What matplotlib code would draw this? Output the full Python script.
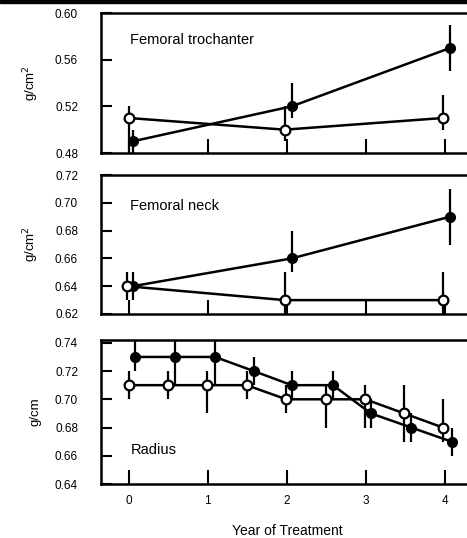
import matplotlib
matplotlib.use("Agg")
import matplotlib.pyplot as plt
from matplotlib.patches import Rectangle

plt.rcParams['font.family'] = ['Liberation Sans', 'DejaVu Sans']

# ---- data ----
panel_titles = ["Femoral trochanter", "Femoral neck", "Radius"]
ylabels = ["g/cm$^2$", "g/cm$^2$", "g/cm"]
yticks_list = [[0.48, 0.52, 0.56, 0.60],
               [0.62, 0.64, 0.66, 0.68, 0.70, 0.72],
               [0.64, 0.66, 0.68, 0.70, 0.72, 0.74]]
ylims = [(0.48, 0.60), (0.62, 0.72), (0.64, 0.742)]
xticks = [0, 1, 2, 3, 4]

# Femoral trochanter
troch_open_x = [0.0, 1.97, 3.97]
troch_open_y = [0.51, 0.50, 0.51]
troch_open_lo = [0.48, 0.49, 0.50]
troch_open_hi = [0.52, 0.52, 0.53]
troch_fill_x = [0.05, 2.06, 4.06]
troch_fill_y = [0.49, 0.52, 0.57]
troch_fill_lo = [0.48, 0.51, 0.55]
troch_fill_hi = [0.50, 0.54, 0.59]

# Femoral neck
neck_open_x = [-0.02, 1.97, 3.97]
neck_open_y = [0.64, 0.63, 0.63]
neck_open_lo = [0.63, 0.62, 0.62]
neck_open_hi = [0.65, 0.65, 0.65]
neck_fill_x = [0.05, 2.06, 4.06]
neck_fill_y = [0.64, 0.66, 0.69]
neck_fill_lo = [0.63, 0.65, 0.67]
neck_fill_hi = [0.65, 0.68, 0.71]

# Radius
rad_open_x = [0.0, 0.5, 0.99, 1.49, 1.99, 2.49, 2.99, 3.48, 3.97]
rad_open_y = [0.71, 0.71, 0.71, 0.71, 0.70, 0.70, 0.70, 0.69, 0.68]
rad_open_lo = [0.70, 0.70, 0.69, 0.70, 0.69, 0.68, 0.68, 0.67, 0.67]
rad_open_hi = [0.72, 0.72, 0.72, 0.72, 0.71, 0.71, 0.71, 0.71, 0.70]
rad_fill_x = [0.08, 0.58, 1.09, 1.58, 2.06, 2.58, 3.06, 3.57, 4.08]
rad_fill_y = [0.73, 0.73, 0.73, 0.72, 0.71, 0.71, 0.69, 0.68, 0.67]
rad_fill_lo = [0.72, 0.71, 0.71, 0.71, 0.70, 0.70, 0.68, 0.67, 0.66]
rad_fill_hi = [0.75, 0.75, 0.75, 0.73, 0.72, 0.72, 0.70, 0.69, 0.68]

series = [
    ((troch_open_x, troch_open_y, troch_open_lo, troch_open_hi),
     (troch_fill_x, troch_fill_y, troch_fill_lo, troch_fill_hi)),
    ((neck_open_x, neck_open_y, neck_open_lo, neck_open_hi),
     (neck_fill_x, neck_fill_y, neck_fill_lo, neck_fill_hi)),
    ((rad_open_x, rad_open_y, rad_open_lo, rad_open_hi),
     (rad_fill_x, rad_fill_y, rad_fill_lo, rad_fill_hi)),
]

W, H = 467, 538
fig = plt.figure(figsize=(W / 100, H / 100), dpi=100)

left_px = 101
right_px = 473
# (top, bottom) in pixels
panels_px = [(13, 153), (175, 314), (340, 484)]
title_data = [(0.02, 0.5765), (0.02, 0.698), (0.03, 0.6638)]

for i, (top, bot) in enumerate(panels_px):
    ax = fig.add_axes([left_px / W, 1 - bot / H, (right_px - left_px) / W, (bot - top) / H])
    ax.set_xlim(-0.35, 4.35)
    ax.set_ylim(*ylims[i])
    (ox, oy, olo, ohi), (fx, fy, flo, fhi) = series[i]
    oerr = [[y - l for y, l in zip(oy, olo)], [h - y for y, h in zip(oy, ohi)]]
    ferr = [[y - l for y, l in zip(fy, flo)], [h - y for y, h in zip(fy, fhi)]]
    ax.errorbar(fx, fy, yerr=ferr, fmt='-o', color='black', lw=1.8, elinewidth=1.6,
                capsize=0, ms=7, mfc='black', mec='black', zorder=3)
    ax.errorbar(ox, oy, yerr=oerr, fmt='-o', color='black', lw=1.8, elinewidth=1.6,
                capsize=0, ms=7, mfc='white', mec='black', mew=1.6, zorder=4)
    ax.set_yticks(yticks_list[i])
    ax.set_yticklabels([f"{v:.2f}" for v in yticks_list[i]])
    ax.set_xticks(xticks)
    ax.tick_params(axis='both', direction='in', width=1.5, labelsize=8.5)
    ax.tick_params(axis='y', length=8, pad=16.5)
    ax.tick_params(axis='x', length=10, pad=8)
    if i < 2:
        ax.tick_params(axis='x', labelbottom=False)
    else:
        ax.set_xticklabels([str(v) for v in xticks])
        ax.set_xlabel("Year of Treatment", fontsize=10)
        ax.xaxis.set_label_coords(0.5, -0.28)
    ax.spines['right'].set_visible(False)
    for s in ['top', 'bottom', 'left']:
        ax.spines[s].set_linewidth(1.8)
    ax.set_ylabel(ylabels[i], fontsize=9.5)
    ax.yaxis.set_label_coords(-0.16, 0.5)
    ax.text(title_data[i][0], title_data[i][1], panel_titles[i], fontsize=10.5,
            ha='left', va='center')

# dark strip along the top edge of the scan
fig.patches.append(Rectangle((0, 1 - 3 / H), 1, 3 / H, transform=fig.transFigure,
                             color='black', zorder=10))

fig.savefig("out.png", dpi=100)
